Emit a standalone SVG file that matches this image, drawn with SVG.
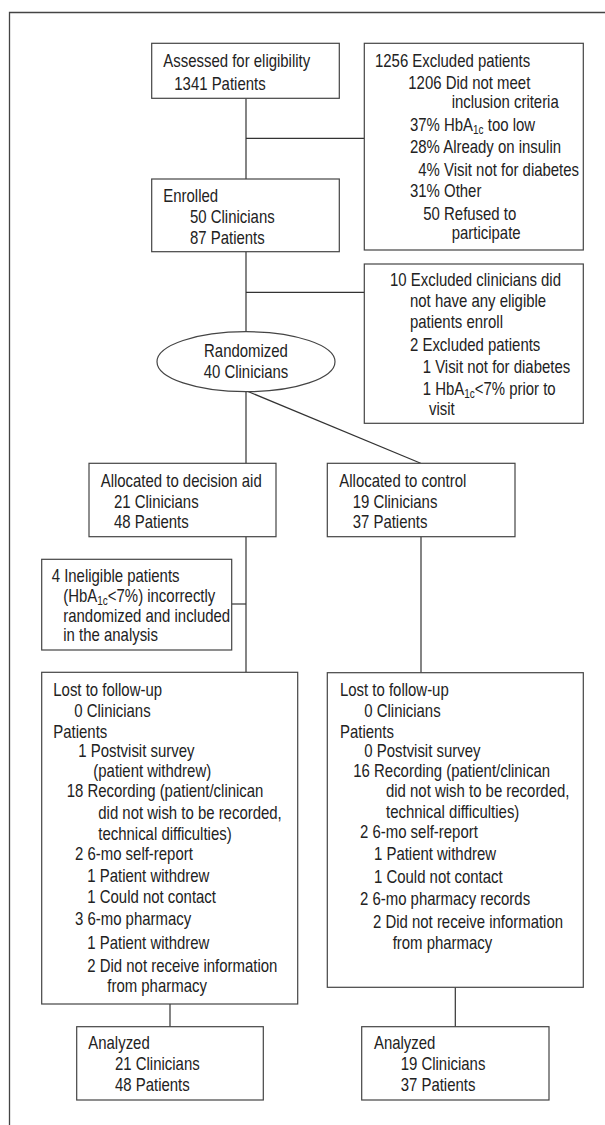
<svg xmlns="http://www.w3.org/2000/svg" width="605" height="1125" viewBox="0 0 605 1125">
<style>
.box{fill:#fff;stroke:#444;stroke-width:1.2}
.c{stroke:#333;stroke-width:1.2;fill:none}
text{font-family:"Liberation Sans Narrow","Arial Narrow","Liberation Sans",Arial,sans-serif;font-size:18px;fill:#222;transform-box:fill-box;transform-origin:0 0;transform:scaleX(0.83)}
.sub{font-size:12px}
text.mid{text-anchor:middle;transform-origin:50% 0}
</style>
<rect width="605" height="1125" fill="#fff"/>
<path d="M9.5,1125 V12.5 H605" fill="none" stroke="#444" stroke-width="1.3"/>
<g id="connectors">
<line class="c" x1="246" y1="98.3" x2="246" y2="179"/>
<line class="c" x1="246" y1="138.3" x2="364.3" y2="138.3"/>
<line class="c" x1="246" y1="251.7" x2="246" y2="331.7"/>
<line class="c" x1="246" y1="292.3" x2="364.3" y2="292.3"/>
<line class="c" x1="246" y1="391.7" x2="246" y2="463.3"/>
<line class="c" x1="248" y1="391.5" x2="420.7" y2="463.3"/>
<line class="c" x1="246" y1="536.7" x2="246" y2="672.3"/>
<line class="c" x1="231.7" y1="604" x2="246" y2="604"/>
<line class="c" x1="421" y1="536.7" x2="421" y2="672.7"/>
<line class="c" x1="170" y1="1004" x2="170" y2="1026.7"/>
<line class="c" x1="455.3" y1="987.3" x2="455.3" y2="1026.7"/>
</g>
<g id="assessed">
<rect class="box" x="151.7" y="43.3" width="187.6" height="55"/>
<text x="163.3" y="67.3">Assessed for eligibility</text>
<text x="174.3" y="90">1341 Patients</text>
</g>
<g id="excluded-patients">
<rect class="box" x="364.3" y="43.3" width="219" height="206.7"/>
<text x="375" y="66.7">1256 Excluded patients</text>
<text x="408.3" y="89">1206 Did not meet</text>
<text x="451.7" y="107.7">inclusion criteria</text>
<text x="410" y="130.7">37% HbA<tspan class="sub" dy="3">1c</tspan><tspan dy="-3"> too low</tspan></text>
<text x="410" y="153.3">28% Already on insulin</text>
<text x="418.3" y="176">4% Visit not for diabetes</text>
<text x="410" y="197.3">31% Other</text>
<text x="423.3" y="220">50 Refused to</text>
<text x="451.7" y="239.3">participate</text>
</g>
<g id="enrolled">
<rect class="box" x="151.7" y="179" width="187.6" height="72.7"/>
<text x="163.3" y="202.3">Enrolled</text>
<text x="190" y="223.3">50 Clinicians</text>
<text x="190" y="244">87 Patients</text>
</g>
<g id="excluded-clinicians">
<rect class="box" x="364.3" y="264" width="219" height="159.3"/>
<text x="390" y="286.3">10 Excluded clinicians did</text>
<text x="410" y="307">not have any eligible</text>
<text x="410" y="328.3">patients enroll</text>
<text x="410" y="350.7">2 Excluded patients</text>
<text x="422.7" y="373">1 Visit not for diabetes</text>
<text x="422.7" y="395">1 HbA<tspan class="sub" dy="3">1c</tspan><tspan dy="-3">&lt;7% prior to</tspan></text>
<text x="429" y="415">visit</text>
</g>
<g id="randomized">
<ellipse class="box" cx="246" cy="361.7" rx="89" ry="30"/>
<text class="mid" x="246" y="356.7">Randomized</text>
<text class="mid" x="246" y="378.3">40 Clinicians</text>
</g>
<g id="decision-aid">
<rect class="box" x="89" y="463.3" width="187" height="73.4"/>
<text x="100.7" y="486.7">Allocated to decision aid</text>
<text x="114" y="507.7">21 Clinicians</text>
<text x="114" y="528.3">48 Patients</text>
</g>
<g id="control">
<rect class="box" x="327.3" y="463.3" width="187.7" height="73.4"/>
<text x="339.3" y="486.7">Allocated to control</text>
<text x="352.7" y="507.7">19 Clinicians</text>
<text x="352.7" y="528.3">37 Patients</text>
</g>
<g id="ineligible">
<rect class="box" x="41.7" y="559.3" width="190" height="90.7"/>
<text x="51.7" y="582.5">4 Ineligible patients</text>
<text x="63.3" y="602.5">(HbA<tspan class="sub" dy="3">1c</tspan><tspan dy="-3">&lt;7%) incorrectly</tspan></text>
<text x="63.3" y="622.5">randomized and included</text>
<text x="63.3" y="641">in the analysis</text>
</g>
<g id="lost-left">
<rect class="box" x="41.7" y="672.3" width="256" height="331.7"/>
<text x="53.3" y="696">Lost to follow-up</text>
<text x="74.3" y="716.7">0 Clinicians</text>
<text x="53.3" y="738.3">Patients</text>
<text x="78.3" y="756.7">1 Postvisit survey</text>
<text x="93.3" y="776.7">(patient withdrew)</text>
<text x="66.7" y="797.3">18 Recording (patient/clinican</text>
<text x="98.3" y="819.3">did not wish to be recorded,</text>
<text x="98.3" y="840">technical difficulties)</text>
<text x="75" y="860">2 6-mo self-report</text>
<text x="87.3" y="881.7">1 Patient withdrew</text>
<text x="87.3" y="903.3">1 Could not contact</text>
<text x="75" y="925.5">3 6-mo pharmacy</text>
<text x="87.3" y="949.5">1 Patient withdrew</text>
<text x="87.3" y="972.5">2 Did not receive information</text>
<text x="107.3" y="992.5">from pharmacy</text>
</g>
<g id="lost-right">
<rect class="box" x="327.3" y="672.7" width="256" height="314.6"/>
<text x="340" y="696">Lost to follow-up</text>
<text x="364.3" y="716.7">0 Clinicians</text>
<text x="340" y="738.3">Patients</text>
<text x="364.3" y="756.7">0 Postvisit survey</text>
<text x="353.3" y="776.7">16 Recording (patient/clinican</text>
<text x="386" y="797.3">did not wish to be recorded,</text>
<text x="386" y="818.3">technical difficulties)</text>
<text x="360" y="838.3">2 6-mo self-report</text>
<text x="374" y="860">1 Patient withdrew</text>
<text x="374" y="882.7">1 Could not contact</text>
<text x="360" y="905">2 6-mo pharmacy records</text>
<text x="373" y="928.5">2 Did not receive information</text>
<text x="392.7" y="949">from pharmacy</text>
</g>
<g id="analyzed-left">
<rect class="box" x="76.7" y="1026.7" width="186.6" height="73.3"/>
<text x="88.3" y="1049.3">Analyzed</text>
<text x="115" y="1070">21 Clinicians</text>
<text x="115" y="1090.7">48 Patients</text>
</g>
<g id="analyzed-right">
<rect class="box" x="361.7" y="1026.7" width="187.3" height="73.3"/>
<text x="374" y="1049.3">Analyzed</text>
<text x="400.7" y="1070">19 Clinicians</text>
<text x="400.7" y="1090.7">37 Patients</text>
</g>
</svg>
